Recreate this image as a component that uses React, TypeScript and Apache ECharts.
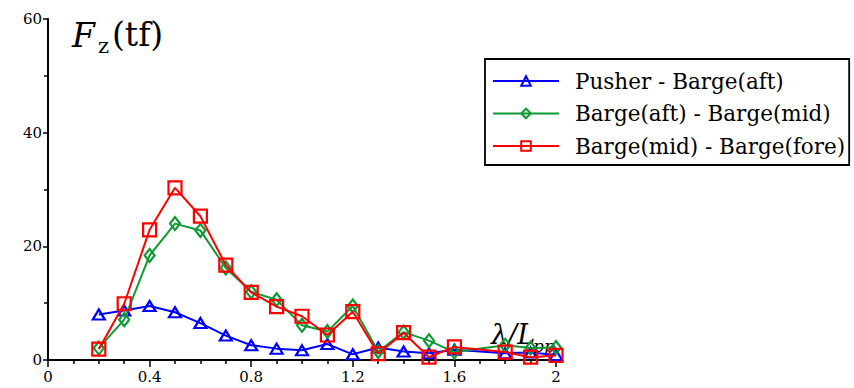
import React, { useEffect, useRef } from "react";
import * as echarts from "echarts";

const xs = [0.2, 0.3, 0.4, 0.5, 0.6, 0.7, 0.8, 0.9, 1.0, 1.1, 1.2, 1.3, 1.4, 1.5, 1.6, 1.8, 1.9, 2.0];
const pusherAft = [8.0, 8.7, 9.5, 8.4, 6.5, 4.3, 2.6, 2.0, 1.7, 2.8, 1.0, 2.2, 1.5, 1.2, 1.8, 1.2, 1.3, 0.9];
const aftMid = [2.1, 7.1, 18.4, 24.0, 22.8, 16.2, 12.0, 10.6, 6.1, 5.0, 9.5, 1.5, 4.9, 3.4, 1.4, 2.6, 2.1, 2.2];
const midFore = [1.9, 9.9, 22.9, 30.3, 25.3, 16.7, 11.9, 9.4, 7.7, 4.4, 8.5, 1.1, 4.8, 0.5, 2.3, 1.4, 0.5, 0.8];
const seriesNames = ["Pusher - Barge(aft)", "Barge(aft) - Barge(mid)", "Barge(mid) - Barge(fore)"];

const SERIF = "DejaVu Serif";

export default function App() {
  const ref = useRef<HTMLDivElement>(null);
  useEffect(() => {
    if (!ref.current) return;
    const chart = echarts.init(ref.current, undefined, { renderer: "svg" });
    const pair = (ys: number[]) => xs.map((x, i) => [x, ys[i]]);
    const mk = (name: string, ys: number[], color: string, symbol: string, size: number | number[], z: number) => ({
      name,
      type: "line",
      data: pair(ys),
      symbol,
      symbolSize: size,
      showAllSymbol: true,
      z,
      lineStyle: { color, width: 2 },
      itemStyle: { color: "rgba(255,255,255,0)", borderColor: color, borderWidth: 2.2 },
      emphasis: { disabled: true },
    });
    chart.setOption({
      animation: false,
      backgroundColor: "#fff",
      textStyle: { fontFamily: SERIF },
      grid: { left: 48, top: 19, right: 298, bottom: 28, containLabel: false },
      xAxis: {
        type: "value",
        min: 0,
        max: 2,
        interval: 0.4,
        axisLine: { lineStyle: { color: "#000", width: 2 } },
        axisTick: { show: true, length: 7, lineStyle: { color: "#000", width: 1.5 } },
        minorTick: { show: true, splitNumber: 4, length: 4, lineStyle: { color: "#000", width: 1.5 } },
        splitLine: { show: false },
        axisLabel: { color: "#000", fontSize: 15, fontFamily: SERIF, margin: 9, formatter: (v: number) => String(Math.round(v * 10) / 10) },
      },
      yAxis: {
        type: "value",
        min: 0,
        max: 60,
        interval: 20,
        axisLine: { show: true, lineStyle: { color: "#000", width: 2 } },
        axisTick: { show: true, length: 5, lineStyle: { color: "#000", width: 1.5 } },
        minorTick: { show: true, splitNumber: 2, length: 4, lineStyle: { color: "#000", width: 1.5 } },
        splitLine: { show: false },
        axisLabel: { color: "#000", fontSize: 15, fontFamily: SERIF, margin: 6 },
      },
      legend: {
        orient: "vertical",
        left: 485,
        top: 59,
        padding: [9, 4, 6, 7],
        itemWidth: 66,
        itemHeight: 12,
        itemGap: 6.5,
        borderColor: "#000",
        borderWidth: 1.8,
        backgroundColor: "#fff",
        data: seriesNames,
        textStyle: { color: "#000", fontSize: 21.5, fontFamily: SERIF, lineHeight: 26, padding: [0, 0, 0, 11] },
      },
      graphic: [
        { type: "text", left: 72, top: 19, style: { text: "F", fontFamily: SERIF, fontStyle: "italic", fontSize: 33, fill: "#000" } },
        { type: "text", left: 98, top: 35, style: { text: "z", fontFamily: SERIF, fontSize: 21, fill: "#000" } },
        { type: "text", left: 112, top: 18, style: { text: "(tf)", fontFamily: SERIF, fontSize: 33, fill: "#000" } },
        { type: "text", left: 491, top: 321, z: -1, style: { text: "λ/L", fontFamily: SERIF, fontStyle: "italic", fontSize: 27, fill: "#000" } },
        { type: "text", left: 533, top: 337, z: -1, style: { text: "pp", fontFamily: SERIF, fontStyle: "italic", fontSize: 17, fill: "#000" } },
      ],
      series: [
        mk(seriesNames[0], pusherAft, "#0000ff", "triangle", [12, 10], 3),
        mk(seriesNames[1], aftMid, "#0f9a35", "diamond", [10, 13], 4),
        mk(seriesNames[2], midFore, "#ff0000", "rect", 13, 5),
      ],
    });
    return () => chart.dispose();
  }, []);
  return <div ref={ref} style={{ width: 854, height: 388, position: "absolute", left: 0, top: 0 }} />;
}
